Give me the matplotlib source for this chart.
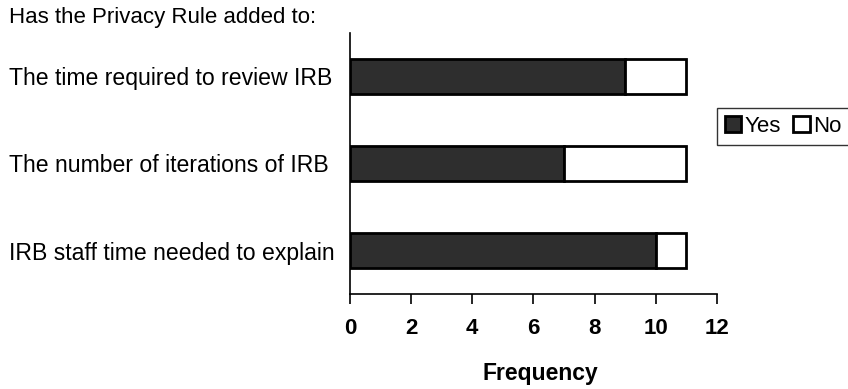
import matplotlib.pyplot as plt
import numpy as np

# Réponses à la question sur la Privacy Rule
questions = ['IRB staff time needed to explain',
             'The number of iterations of IRB',
             'The time required to review IRB']
oui = [10, 7, 9]
non = [1, 4, 2]
graduations = [0, 2, 4, 6, 8, 10, 12]

plt.rcParams['font.family'] = ['Liberation Sans', 'DejaVu Sans']

fig = plt.figure(figsize=(8.48, 3.89), dpi=100)
ax = fig.add_axes([0.4127, 0.2442, 0.4328, 0.671])

y = np.arange(len(questions))
b_oui = ax.barh(y, oui, height=0.4, color='#2e2e2e', edgecolor='black', linewidth=2, label='Yes')
b_non = ax.barh(y, non, left=oui, height=0.4, color='white', edgecolor='black', linewidth=2, label='No')

ax.set_xlim(0, 12)
ax.set_ylim(-0.5, 2.5)
ax.set_xticks(graduations)
ax.set_xticklabels([str(g) for g in graduations], fontsize=16, fontweight='bold')
ax.set_yticks(y)
ax.set_yticklabels(questions, fontsize=16.6, ha='left')
# étiquettes alignées à gauche près du bord de la figure
ax.tick_params(axis='y', length=0, pad=(350 - 9) * 0.72)
ax.tick_params(axis='x', length=7, width=1.2, pad=10)

for s in ['top', 'right']:
    ax.spines[s].set_visible(False)
ax.spines['left'].set_linewidth(1.2)
ax.spines['bottom'].set_linewidth(1.2)

ax.set_xlabel('Frequency', fontsize=16.5, fontweight='bold', va='top')
ax.xaxis.set_label_coords(0.52, -0.262)

fig.text(9 / 848, 1 - 18 / 389, 'Has the Privacy Rule added to:', fontsize=16, va='center')

leg = fig.legend(handles=[b_oui, b_non], loc='upper left', bbox_to_anchor=(717 / 848, 1 - 108 / 389),
                 ncol=2, fontsize=16, frameon=True, fancybox=False,
                 handlelength=0.75, handleheight=0.75, handletextpad=0.15,
                 columnspacing=0.55, borderpad=0.35, borderaxespad=0)
leg.get_frame().set_edgecolor('black')
leg.get_frame().set_linewidth(1)

plt.savefig('out.png', dpi=100)
